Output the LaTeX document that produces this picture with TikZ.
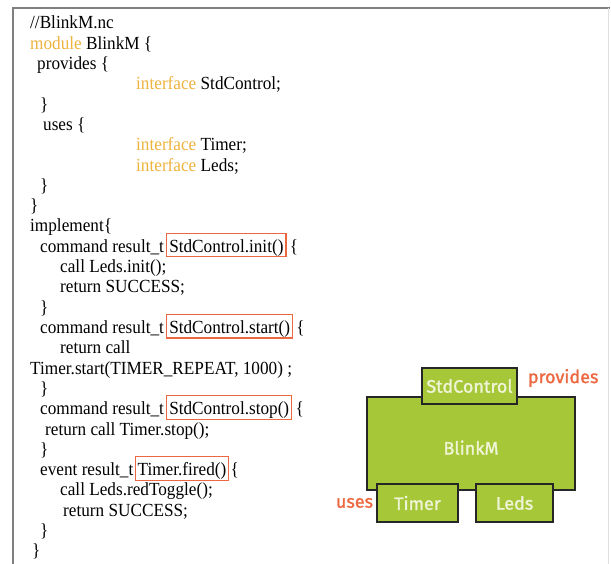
\documentclass[tikz,border=0pt]{standalone}
\usepackage{fontspec}
\setmainfont[FakeStretch=0.93]{Liberation Serif}
\newfontfamily\boxfont[FakeBold=1.4]{Fira Sans}
\usetikzlibrary{positioning}
\definecolor{kwgold}{RGB}{238,178,62}
\definecolor{hlred}{RGB}{236,104,64}
\definecolor{modgreen}{RGB}{166,200,56}
\definecolor{modtext}{RGB}{240,244,215}
\newcommand{\kw}[1]{\textcolor{kwgold}{#1}}
\tikzset{
  code/.style={anchor=base west, inner sep=0pt, font=\fontsize{18.5}{20}\selectfont},
  hl/.style={code, draw=hlred, line width=1.2pt, inner xsep=2.5pt, inner ysep=4pt, text height=15pt, text depth=.5pt},
  modbox/.style={draw=black!85, line width=1.5pt, fill=modgreen, text=modtext, font=\boxfont\fontsize{18}{20}\selectfont},
  portlbl/.style={text=hlred, inner sep=0pt, font=\boxfont\fontsize{18}{20}\selectfont}
}
\begin{document}
\begin{tikzpicture}[x=1pt,y=-1pt]
\useasboundingbox (0,0) rectangle (611,564);
% frame
\draw[black!50, line width=1.5pt] (13,564) -- (13,8) -- (610,8);
\draw[black!12, line width=.8pt] (608,8) -- (608,564);
% module header
\node[code] (l0) at (30,29) {//BlinkM.nc};
\node[code] (l1) at (30,49.3) {\kw{module} BlinkM \{};
\node[code] (l2) at (37,69.6) {provides \{};
\node[code] (l3) at (136,89.9) {\kw{interface} StdControl;};
\node[code] (l4) at (40,110.2) {\}};
\node[code] (l5) at (43,130.5) {uses \{};
\node[code] (l6) at (136,150.8) {\kw{interface} Timer;};
\node[code] (l7) at (136,171.1) {\kw{interface} Leds;};
\node[code] (l8) at (40,191.4) {\}};
\node[code] (l9) at (30,211.7) {\}};
% implementation
\node[code] (l10) at (30,232) {implement\{};
\node[code] (l11) at (40,252.3) {command result\_t};
\node[hl] (init) at ([xshift=2pt]l11.base east) {StdControl.init()};
\node[code] at ([xshift=3pt]init.base east) {\{};
\node[code] (l12) at (60,272.6) {call Leds.init();};
\node[code] (l13) at (60,292.9) {return SUCCESS;};
\node[code] (l14) at (40,313.2) {\}};
\node[code] (l15) at (40,333.5) {command result\_t};
\node[hl] (start) at ([xshift=2pt]l15.base east) {StdControl.start()};
\node[code] at ([xshift=3pt]start.base east) {\{};
\node[code] (l16) at (60,353.8) {return call};
\node[code] (l17) at (30,374.1) {Timer.start(TIMER\_REPEAT, 1000) ;};
\node[code] (l18) at (40,394.4) {\}};
\node[code] (l19) at (40,414.7) {command result\_t};
\node[hl] (stop) at ([xshift=2pt]l19.base east) {StdControl.stop()};
\node[code] at ([xshift=3pt]stop.base east) {\{};
\node[code] (l20) at (45,435) {return call Timer.stop();};
\node[code] (l21) at (40,455.3) {\}};
\node[code] (l22) at (40,475.6) {event result\_t};
\node[hl] (fired) at ([xshift=1pt]l22.base east) {Timer.fired()};
\node[code] at ([xshift=1pt]fired.base east) {\{};
\node[code] (l23) at (60,495.9) {call Leds.redToggle();};
\node[code] (l24) at (63,516.2) {return SUCCESS;};
\node[code] (l25) at (40,536.5) {\}};
\node[code] (l26) at (32,556.8) {\}};
% component with its interfaces
\node[modbox, minimum width=208pt, minimum height=93pt, text height=22pt, text depth=0pt] (blinkm) at (471,443.5) {BlinkM};
\node[modbox, minimum width=95pt, minimum height=36pt] (sc) at (469.5,386) {StdControl};
\node[modbox, minimum width=81pt, minimum height=38pt] (tm) at (417.5,503) {Timer};
\node[modbox, minimum width=77pt, minimum height=38pt] (ld) at (514.5,503) {Leds};
\node[portlbl, right=10pt of sc, yshift=8pt] (prov) {provides};
\node[portlbl, left=3pt of tm] (uses) {uses};
\end{tikzpicture}
\end{document}
